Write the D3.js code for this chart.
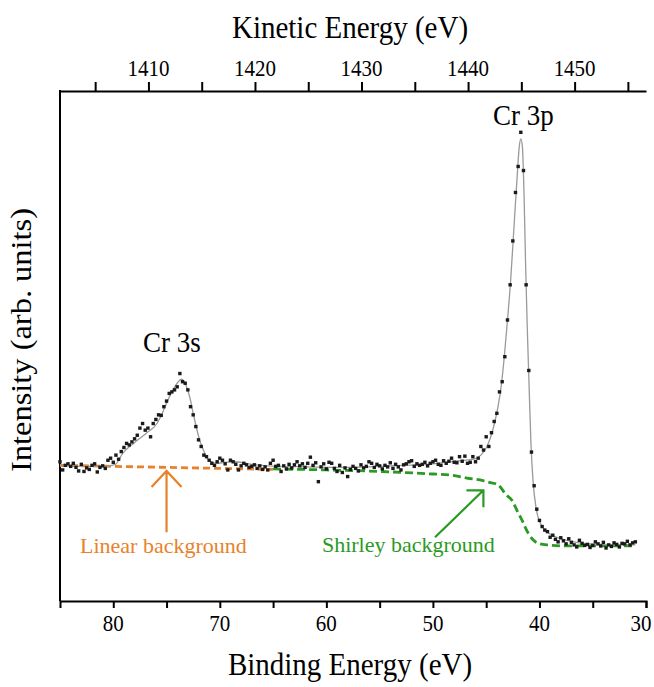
<!DOCTYPE html>
<html>
<head>
<meta charset="utf-8">
<script src="https://cdn.jsdelivr.net/npm/d3@7/dist/d3.min.js"></script>
<style>
  html, body { margin: 0; padding: 0; background: #fff; }
  svg { display: block; }
  text { font-family: "Liberation Serif", "Times New Roman", "DejaVu Serif", serif; }
</style>
</head>
<body>
<svg id="chart" width="654" height="687"></svg>
<script>
// ---------------- data ----------------
const photonEnergy = 1486.7;          // KE = hv - BE
const beStart = 85.0;                  // first binding energy of the scan (eV)
const beStep = 0.25;                   // scan step (eV)
// measured intensity (arb. units), one value per step from 85 eV down to 31 eV
const intensity = [
  27.3, 25.7, 26.6, 26.9,   26.4, 27.0, 26.2, 25.5,   26.8, 25.4, 26.1, 25.8,
  26.6, 26.9, 25.3, 26.2,   26.5, 26.0, 27.6, 28.0,   27.2, 28.6, 27.8, 29.3,
  30.1, 30.9, 30.6, 31.2,   31.8, 32.5, 33.9, 34.8,   33.5, 33.9, 32.2, 34.8,
  35.6, 36.5, 36.4, 38.1,   39.2, 40.7, 41.0, 41.4,   42.0, 44.6, 43.0, 42.7,
  41.4, 38.1, 36.5, 34.2,   31.6, 30.3, 28.6, 28.3,   27.6, 27.0, 26.6, 27.3,
  28.0, 27.6, 26.9, 25.7,   27.6, 27.3, 26.8, 25.7,   26.5, 27.0, 26.7, 26.2,
  26.4, 26.7, 26.0, 26.5,   25.8, 26.3, 25.7, 27.0,   27.6, 26.4, 26.6, 25.4,
  26.5, 25.9, 26.8, 26.1,   26.7, 27.3, 26.5, 26.9,   26.2, 27.0, 28.2, 26.6,
  27.1, 23.4, 26.3, 26.9,   25.9, 27.2, 27.0, 26.0,   25.4, 26.6, 25.2, 26.1,
  24.4, 25.8, 26.4, 26.0,   25.5, 26.7, 26.1, 26.4,   27.3, 27.0, 26.2, 26.8,
  26.5, 25.9, 26.6, 26.3,   27.1, 26.0, 26.8, 26.3,   25.7, 26.7, 26.9, 27.3,
  27.5, 26.4, 26.9, 26.6,   26.8, 27.2, 26.5, 27.0,   27.3, 27.6, 26.8, 26.6,
  27.5, 27.0, 27.4, 28.0,   27.2, 27.1, 28.3, 27.4,   28.4, 27.0, 27.2, 28.3,
  27.3, 28.0, 30.3, 29.6,   32.2, 30.3, 33.0, 35.2,   36.8, 41.0, 43.0, 47.9,
  55.1, 62.0, 70.6, 80.1,   85.2, 91.9, 84.4, 62.0,   45.2, 29.2, 22.6, 18.0,
  15.8, 14.6, 13.9, 13.6,   12.5, 12.9, 12.1, 11.6,   12.4, 11.8, 11.2, 12.2,
  11.5, 11.0, 10.6, 11.9,   11.3, 10.9, 11.1, 10.5,   10.9, 11.6, 11.2, 10.8,
  11.5, 10.4, 11.0, 10.7,   11.4, 11.1, 10.6, 11.3,   11.2, 11.7, 11.0, 11.4,
  11.6
];
// fitted envelope
const fitBE = [85.0, 82.0, 80.5, 79.8, 79.1, 78.1, 76.9, 75.9, 75.4, 75.0, 74.5, 74.0, 73.6, 73.2, 72.8, 72.5,
  71.9, 71.5, 71.2, 70.7, 70.3, 69.5, 68.7, 67.0, 65.6, 62.0, 58.0, 54.0, 50.0, 48.0, 46.5, 46.0,
  45.5, 45.0, 44.6, 44.2, 43.9, 43.6, 43.3, 43.0, 42.7, 42.4, 42.1, 41.9, 41.75, 41.6, 41.45, 41.3,
  41.15, 41.0, 40.8, 40.6, 40.3, 39.9, 39.3, 38.5, 38.1, 37.0, 35.9, 34.0, 31.0];
const fitI = [26.5, 26.4, 26.5, 26.8, 29.0, 30.9, 32.9, 34.8, 36.8, 38.8, 41.0, 42.7, 43.5, 42.4, 39.8, 36.8,
  31.6, 29.4, 28.0, 27.2, 27.0, 27.2, 27.3, 26.8, 26.5, 26.3, 26.2, 26.5, 26.9, 27.4, 27.7, 27.9,
  28.6, 30.0, 32.0, 35.0, 38.0, 42.0, 47.9, 55.1, 63.0, 73.0, 83.0, 89.0, 90.6, 89.0, 80.0, 66.0,
  54.0, 44.0, 31.0, 23.5, 18.0, 15.2, 13.6, 12.6, 12.3, 11.7, 11.3, 11.1, 11.0];
// linear background under Cr 3s
const linearBE = [85.0, 65.0];
const linearI = [26.6, 25.8];
// Shirley background under Cr 3p
const shirleyBE = [65.0, 60.0, 55.0, 50.0, 48.4, 46.8, 45.3, 44.6, 44.0, 43.7, 43.3, 43.0, 42.6, 42.3,
  42.0, 41.6, 41.3, 41.0, 40.6, 40.2, 39.3, 37.4, 31.2];
const shirleyI = [25.9, 25.7, 25.4, 24.9, 24.7, 24.1, 23.6, 23.2, 22.9, 22.4, 21.3, 20.6, 19.8, 18.6,
  17.3, 15.7, 14.3, 13.1, 12.0, 11.4, 11.0, 10.8, 10.8];

const bindingTicks = [80, 75, 70, 65, 60, 55, 50, 45, 40, 35, 30];
const bindingLabels = [80, 70, 60, 50, 40, 30];
const kineticTicks = [1405, 1410, 1415, 1420, 1425, 1430, 1435, 1440, 1445, 1450, 1455];
const kineticLabels = [1410, 1420, 1430, 1440, 1450];

const peakLabels = [{text: "Cr 3p", be: 41.5}, {text: "Cr 3s", be: 74.5}];

// ---------------- layout ----------------
const FONT = '"Liberation Serif", "Times New Roman", "DejaVu Serif", serif';
const svg = d3.select("#chart");
const L = 60, R = 646, T = 91, B = 601;
const x = d3.scaleLinear().domain([85, 30]).range([L, R]);
const xTop = d3.scaleLinear().domain([photonEnergy - 85, photonEnergy - 30]).range([L, R]);
const y = d3.scaleLinear().domain([0, 100]).range([B, T]);

const orange = "#E8822A", green = "#2A9A24";

function addText(g, px, py, str, size, sy, anchor, color, rot) {
  return g.append("text")
    .attr("transform", `translate(${px},${py}) scale(1,${sy})` + (rot ? ` rotate(${rot})` : ""))
    .attr("text-anchor", anchor)
    .attr("font-family", FONT)
    .attr("font-size", size)
    .attr("fill", color || "#000")
    .text(str);
}

// axes
const axB = svg.append("g").attr("transform", `translate(0,${B})`)
  .call(d3.axisBottom(x).tickValues(bindingTicks).tickSize(7).tickSizeOuter(7).tickFormat(""));
const axT = svg.append("g").attr("transform", `translate(0,${T})`)
  .call(d3.axisTop(xTop).tickValues(kineticTicks).tickSize(9).tickSizeOuter(0).tickFormat(""));
[axB, axT].forEach(a => {
  a.selectAll("path, line").attr("stroke", "#000").attr("stroke-width", 2);
});
svg.append("line").attr("x1", L).attr("x2", L).attr("y1", T - 1).attr("y2", B)
  .attr("stroke", "#000").attr("stroke-width", 2);

const labels = svg.append("g");
bindingLabels.forEach(v => addText(labels, Math.min(x(v), 641), 631, String(v), 21, 1.12, "middle"));
kineticLabels.forEach(v => addText(labels, xTop(v), 76, String(v), 21, 1.12, "middle"));

addText(labels, 350, 675, "Binding Energy (eV)", 29, 1.1, "middle");
addText(labels, 350, 38, "Kinetic Energy (eV)", 29, 1.1, "middle");
addText(labels, 31, (T + B) / 2 - 6, "Intensity (arb. units)", 29, 1.12, "middle", "#000", -90);

// backgrounds
svg.append("path").datum(d3.zip(linearBE, linearI))
  .attr("d", d3.line().x(d => x(d[0])).y(d => y(d[1])))
  .attr("fill", "none").attr("stroke", orange)
  .attr("stroke-width", 2.8).attr("stroke-dasharray", "7,4");
svg.append("path").datum(d3.zip(shirleyBE, shirleyI))
  .attr("d", d3.line().x(d => x(d[0])).y(d => y(d[1])).curve(d3.curveMonotoneX))
  .attr("fill", "none").attr("stroke", green)
  .attr("stroke-width", 2.8).attr("stroke-dasharray", "8,4");

// fit envelope
svg.append("path").datum(d3.zip(fitBE, fitI))
  .attr("d", d3.line().x(d => x(d[0])).y(d => y(d[1])).curve(d3.curveMonotoneX))
  .attr("fill", "none").attr("stroke", "#9a9a9a").attr("stroke-width", 1.3);

// data points
const pts = intensity.map((v, i) => [beStart - i * beStep, v]);
svg.append("g").selectAll("rect").data(pts).join("rect")
  .attr("x", d => x(d[0]) - 1.7).attr("y", d => y(d[1]) - 1.7)
  .attr("width", 3.4).attr("height", 3.4).attr("fill", "#1a1a1a");

// peak labels
addText(labels, x(peakLabels[0].be), 125, peakLabels[0].text, 27, 1.08, "middle");
addText(labels, x(peakLabels[1].be), 352, peakLabels[1].text, 27, 1.08, "middle");

// annotations
const ann = svg.append("g").attr("fill", "none").attr("stroke-width", 2.2);
// linear background arrow (vertical)
const ax0 = x(75.0), tipY = y(25.5), tailY = y(13.5);
ann.append("path").attr("stroke", orange)
  .attr("d", `M${ax0},${tailY}V${tipY}M${ax0 - 15},${tipY + 16}L${ax0},${tipY}L${ax0 + 15},${tipY + 16}`);
addText(svg, x(75.3), 553, "Linear background", 22, 1.0, "middle", orange);
// Shirley background arrow (diagonal)
const gx = x(45.26), gy = y(21.7), gx0 = x(49.8), gy0 = y(12.5);
ann.append("path").attr("stroke", green)
  .attr("d", `M${gx0},${gy0}L${gx},${gy}M${gx - 17},${gy}L${gx},${gy}L${gx},${gy + 17}`);
addText(svg, x(52.3), 552, "Shirley background", 22, 1.0, "middle", green);
</script>
</body>
</html>
